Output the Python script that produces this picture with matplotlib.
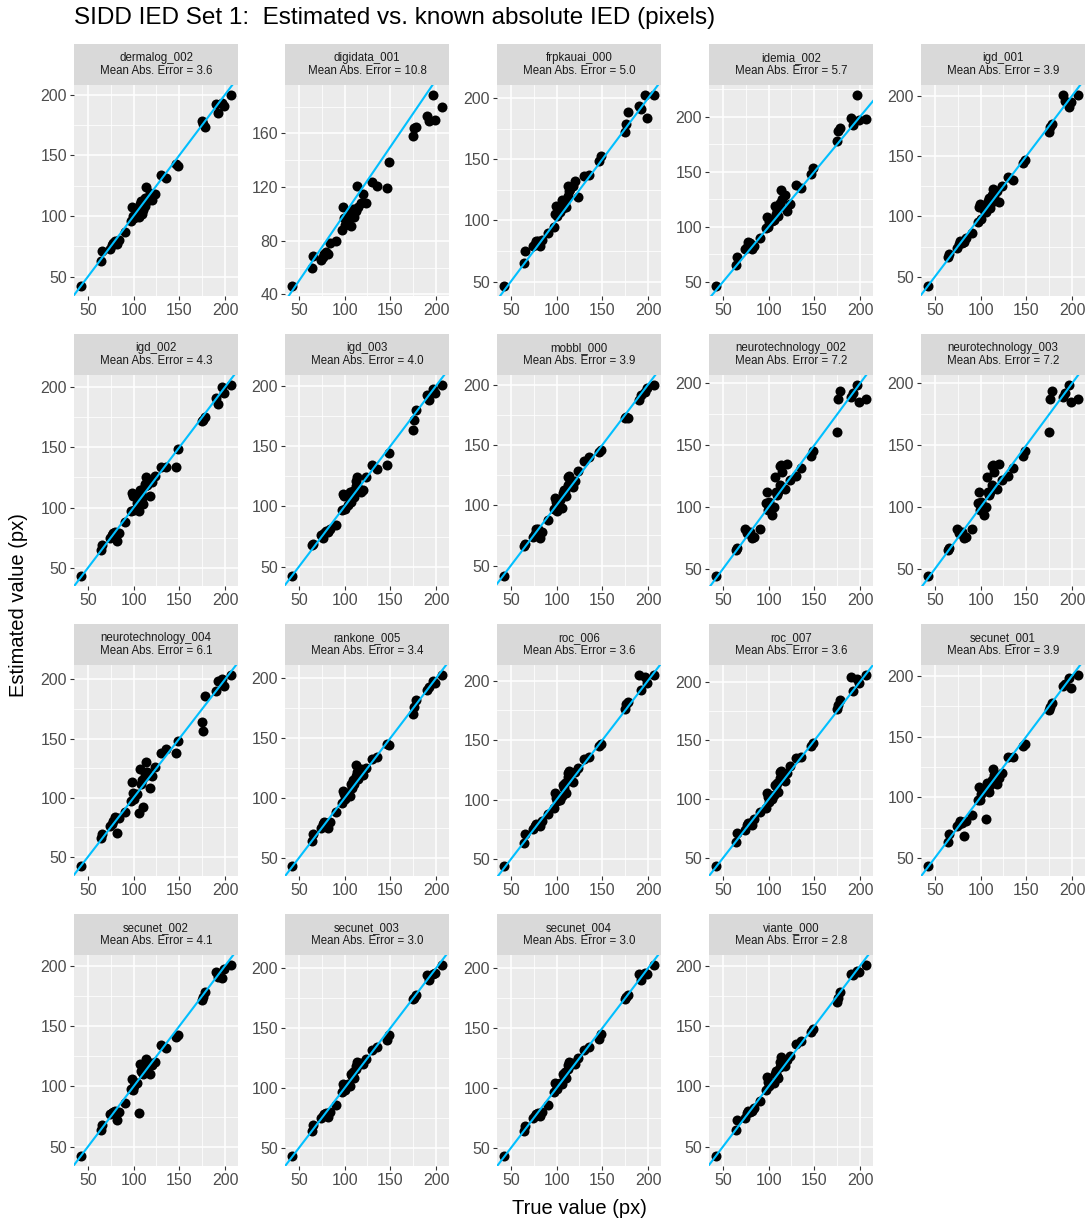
# SIDD IED Set 1: estimated vs known IED, one panel per algorithm

import matplotlib
matplotlib.use('Agg')
import matplotlib.pyplot as plt
from matplotlib.ticker import MaxNLocator, AutoMinorLocator
import numpy as np

plt.rcParams['font.family'] = ['Liberation Sans', 'DejaVu Sans']

# true IED (same subjects in every panel)
true_px = [43, 64, 66, 74, 76, 78, 80, 82, 84, 91, 97, 98, 99, 100, 104, 106, 107, 108, 109, 110,
           112, 113, 114, 115, 118, 120, 123, 130, 135, 146, 149, 175, 176, 178, 190, 192, 197, 199, 206]

algorithms = ["dermalog_002", "digidata_001", "frpkauai_000", "idemia_002", "igd_001",
              "igd_002", "igd_003", "mobbl_000", "neurotechnology_002", "neurotechnology_003",
              "neurotechnology_004", "rankone_005", "roc_006", "roc_007", "secunet_001",
              "secunet_002", "secunet_003", "secunet_004", "viante_000"]

mae = [3.6, 10.8, 5.0, 5.7, 3.9, 4.3, 4.0, 3.9, 7.2, 7.2, 6.1, 3.4, 3.6, 3.6, 3.9, 4.1, 3.0, 3.0, 2.8]

dermalog_002 = [42, 63, 71, 73, 76, 78, 79, 77, 80, 87, 96, 107, 100, 98, 104, 99, 110, 112, 102, 105,
                108, 115, 124, 112, 119, 113, 118, 134, 131, 143, 141, 178, 176, 173, 192, 185, 193, 191, 200]
digidata_001 = [46, 60, 69, 66, 68, 70, 72, 70, 78, 80, 88, 105, 97, 92, 96, 100, 91, 103, 104, 98,
                102, 104, 121, 105, 108, 115, 108, 124, 121, 119, 139, 158, 164, 165, 173, 169, 189, 170, 180]
frpkauai_000 = [46, 65, 75, 79, 81, 83, 83, 79, 84, 90, 95, 105, 112, 104, 107, 117, 110, 113, 115, 111,
                128, 120, 124, 126, 128, 132, 119, 136, 137, 149, 153, 172, 179, 189, 194, 191, 203, 184, 203]
idemia_002 = [46, 65, 73, 80, 82, 86, 85, 80, 83, 90, 99, 109, 100, 104, 105, 106, 119, 112, 115, 110,
              118, 122, 133, 125, 129, 114, 121, 138, 135, 148, 153, 178, 187, 190, 199, 192, 220, 197, 198]
igd_001 = [42, 66, 69, 74, 77, 80, 78, 79, 82, 86, 95, 108, 110, 98, 105, 104, 109, 113, 115, 107,
           118, 112, 123, 117, 121, 112, 125, 133, 130, 144, 147, 170, 174, 177, 201, 196, 191, 195, 201]
igd_002 = [43, 65, 69, 75, 77, 79, 80, 72, 79, 88, 97, 112, 110, 98, 104, 97, 115, 112, 108, 103,
           120, 118, 125, 119, 110, 121, 126, 134, 134, 134, 149, 172, 173, 175, 191, 186, 200, 195, 202]
igd_003 = [42, 68, 69, 76, 74, 78, 80, 79, 81, 85, 97, 110, 109, 98, 101, 112, 104, 109, 113, 108,
           121, 117, 124, 115, 112, 114, 124, 134, 131, 134, 144, 163, 172, 180, 192, 188, 197, 194, 201]
mobbl_000 = [41, 66, 68, 74, 76, 80, 80, 73, 78, 88, 97, 106, 103, 95, 104, 98, 110, 113, 112, 108,
             117, 123, 124, 119, 115, 120, 128, 137, 140, 144, 146, 172, 173, 172, 187, 191, 194, 197, 200]
neurotechnology_002 = [44, 65, 67, 82, 79, 80, 80, 75, 76, 82, 103, 112, 98, 104, 94, 100, 124, 112, 110, 112,
                       133, 118, 134, 128, 115, 135, 122, 125, 132, 141, 145, 161, 187, 194, 189, 192, 199, 185, 187]
neurotechnology_003 = [44, 65, 67, 82, 79, 80, 80, 75, 76, 82, 103, 112, 98, 104, 94, 100, 124, 112, 110, 112,
                       133, 118, 134, 128, 115, 135, 122, 125, 132, 141, 145, 161, 187, 194, 189, 192, 199, 185, 187]
neurotechnology_004 = [42, 66, 69, 76, 78, 80, 84, 70, 83, 88, 97, 113, 104, 99, 103, 87, 124, 112, 115, 92,
                       118, 121, 130, 122, 108, 118, 126, 138, 141, 138, 148, 164, 156, 186, 190, 199, 200, 194, 204]
rankone_005 = [43, 64, 70, 75, 78, 80, 79, 75, 80, 88, 96, 106, 103, 99, 104, 102, 112, 108, 115, 112,
               118, 128, 122, 116, 124, 119, 125, 133, 134, 145, 144, 170, 176, 182, 190, 193, 198, 196, 203]
roc_006 = [44, 64, 71, 75, 78, 80, 79, 78, 82, 88, 93, 106, 101, 99, 100, 103, 112, 110, 114, 106,
           119, 122, 124, 117, 115, 123, 127, 134, 136, 145, 147, 176, 180, 182, 205, 192, 203, 198, 205]
roc_007 = [43, 64, 71, 74, 78, 80, 80, 78, 83, 89, 93, 105, 102, 98, 100, 104, 112, 111, 114, 106,
           118, 123, 124, 118, 116, 122, 128, 135, 136, 145, 148, 177, 180, 184, 204, 192, 202, 199, 206]
secunet_001 = [43, 63, 70, 76, 78, 80, 79, 68, 80, 85, 98, 108, 98, 103, 105, 82, 112, 106, 104, 110,
               114, 112, 123, 118, 111, 116, 120, 133, 133, 142, 144, 172, 174, 178, 192, 193, 198, 190, 201]
secunet_002 = [42, 64, 68, 77, 78, 79, 80, 72, 79, 86, 98, 106, 97, 100, 103, 78, 119, 113, 112, 110,
               115, 118, 123, 121, 110, 118, 120, 134, 132, 141, 143, 172, 174, 178, 195, 191, 190, 197, 201]
secunet_003 = [43, 64, 69, 75, 77, 78, 79, 76, 80, 86, 97, 103, 101, 98, 103, 102, 112, 110, 113, 108,
               116, 118, 122, 119, 121, 120, 124, 132, 134, 140, 144, 174, 175, 178, 194, 190, 195, 196, 203]
secunet_004 = [43, 64, 68, 75, 77, 78, 79, 77, 80, 86, 97, 104, 103, 99, 104, 103, 112, 110, 113, 108,
               116, 119, 122, 119, 121, 120, 125, 132, 134, 141, 145, 174, 176, 178, 195, 190, 196, 195, 203]
viante_000 = [42, 64, 72, 74, 78, 80, 79, 80, 82, 88, 97, 108, 104, 100, 103, 103, 110, 113, 109, 107,
              116, 120, 124, 118, 117, 122, 125, 135, 138, 145, 148, 170, 173, 178, 193, 192, 196, 195, 201]

estimated = [dermalog_002, digidata_001, frpkauai_000, idemia_002, igd_001, igd_002, igd_003,
             mobbl_000, neurotechnology_002, neurotechnology_003, neurotechnology_004, rankone_005,
             roc_006, roc_007, secunet_001, secunet_002, secunet_003, secunet_004, viante_000]

W, H = 1089, 1222
fig = plt.figure(figsize=(W / 100, H / 100), dpi=100)

col_left = [74, 285, 497, 709, 921]
row_top = [85, 375, 665, 955]
pw, ph, sh = 164, 211, 41

xr = max(true_px) - min(true_px)
xlim = (min(true_px) - 0.05 * xr, max(true_px) + 0.05 * xr)

for i, name in enumerate(algorithms):
    r, c = divmod(i, 5)
    x0, y0 = col_left[c], row_top[r]
    ax = fig.add_axes([x0 / W, 1 - (y0 + ph) / H, pw / W, ph / H])
    ax.set_facecolor('#EBEBEB')
    for s in ax.spines.values():
        s.set_visible(False)
    ax.set_axisbelow(True)
    ax.xaxis.set_major_locator(MaxNLocator(nbins=4, steps=[1, 2, 4, 5, 10]))
    ax.yaxis.set_major_locator(MaxNLocator(nbins=4, steps=[1, 2, 4, 5, 10]))
    ax.xaxis.set_minor_locator(AutoMinorLocator(2))
    ax.yaxis.set_minor_locator(AutoMinorLocator(2))
    ax.grid(which='major', color='white', lw=1.1)
    ax.grid(which='minor', color='white', lw=0.55)
    ax.tick_params(which='major', length=3, width=0.8, color='#333333', labelcolor='#4D4D4D',
                   labelsize=11.5, pad=2)
    ax.tick_params(which='minor', length=0)

    y = estimated[i]
    yr = max(y) - min(y)
    ax.set_xlim(xlim)
    ax.set_ylim(min(y) - 0.05 * yr, max(y) + 0.05 * yr)

    ax.scatter(true_px, y, s=52, color='black', linewidths=0, zorder=3)
    ax.axline((0, 0), slope=1, color='#00BFFF', lw=1.5, zorder=4)

    # facet strip
    sax = fig.add_axes([x0 / W, 1 - y0 / H, pw / W, sh / H])
    sax.set_facecolor('#D9D9D9')
    sax.set_xticks([])
    sax.set_yticks([])
    for s in sax.spines.values():
        s.set_visible(False)
    sax.text(0.5, 0.5, f"{name}\nMean Abs. Error = {mae[i]:.1f}", ha='center', va='center',
             fontsize=8.3, color='#1A1A1A', linespacing=1.1, transform=sax.transAxes)

fig.text(74 / W, 1 - 18 / H, "SIDD IED Set 1:  Estimated vs. known absolute IED (pixels)",
         fontsize=17.5, ha='left', va='center', color='black')
fig.text(579 / W, 1 - 1208 / H, "True value (px)", fontsize=14.5, ha='center', va='center')
fig.text(19 / W, 1 - 605 / H, "Estimated value (px)", fontsize=14.5, ha='center', va='center',
         rotation=90)

plt.savefig('out.png', dpi=100)
